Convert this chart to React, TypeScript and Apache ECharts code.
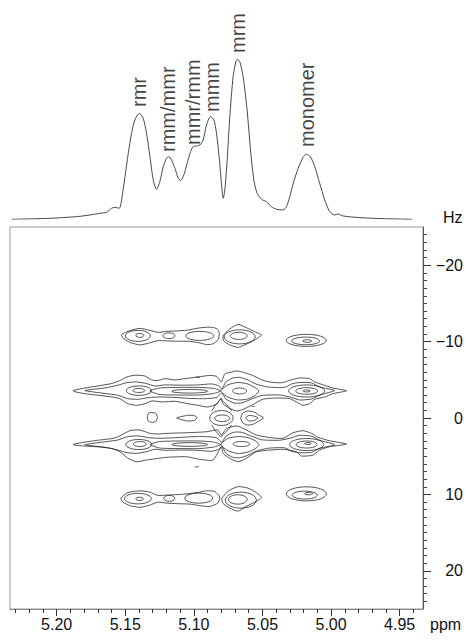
import React, { useEffect, useRef } from "react";
import * as echarts from "echarts";

const FONT = "'Liberation Sans', Arial, Helvetica, sans-serif";
const LINE = "#2a2a2a";

const X_MIN = 4.933;
const X_MAX = 5.234;
const Y_MIN = -25;
const Y_MAX = 25;
const X_MAJOR = [5.2, 5.15, 5.1, 5.05, 5.0, 4.95];
const X_MINOR = [5.23, 5.22, 5.21, 5.19, 5.18, 5.17, 5.16, 5.14, 5.13, 5.12, 5.11, 5.09, 5.08, 5.07, 5.06, 5.04, 5.03, 5.02, 5.01, 4.99, 4.98, 4.97, 4.96, 4.94];
const Y_MAJOR = [-20, -10, 0, 10, 20];
const Y_MINOR = [-24, -23, -22, -21, -19, -18, -17, -16, -15, -14, -13, -12, -11, -9, -8, -7, -6, -5, -4, -3, -2, -1, 1, 2, 3, 4, 5, 6, 7, 8, 9, 11, 12, 13, 14, 15, 16, 17, 18, 19, 21, 22, 23, 24];

// 1D projection (ppm, intensity)
const SPECTRUM: number[][] = [
  [5.2328, 0], [5.2049, 3], [5.1854, 8], [5.1757, 13], [5.1684, 18], [5.1636, 21], [5.16, 33], [5.1575, 36],
  [5.1544, 33], [5.1527, 58], [5.1502, 128], [5.1478, 198], [5.1454, 258], [5.143, 298], [5.1398, 318],
  [5.1369, 303], [5.1345, 258], [5.132, 188], [5.1296, 118], [5.1272, 90], [5.1248, 113], [5.1223, 158],
  [5.1199, 183], [5.1182, 188], [5.1163, 178], [5.1138, 153], [5.1114, 123], [5.1097, 116], [5.1073, 133],
  [5.1049, 168], [5.1024, 203], [5.1005, 218], [5.0981, 220], [5.0956, 223], [5.0932, 238], [5.0908, 283],
  [5.0879, 308], [5.0854, 298], [5.0835, 258], [5.0816, 188], [5.0799, 108], [5.0786, 63], [5.0774, 88],
  [5.0757, 178], [5.0738, 308], [5.0714, 428], [5.0694, 473], [5.0682, 480], [5.0665, 473], [5.0641, 428],
  [5.0612, 328], [5.0587, 208], [5.0563, 118], [5.0539, 78], [5.0507, 60], [5.0471, 53], [5.0435, 38],
  [5.0398, 30], [5.035, 28], [5.0325, 38], [5.0301, 68], [5.0272, 113], [5.024, 153], [5.0204, 186],
  [5.018, 195], [5.0151, 188], [5.0119, 158], [5.0083, 108], [5.0046, 58], [5.001, 23], [4.9973, 13],
  [4.9949, 16], [4.9913, 10], [4.9791, 5], [4.9622, 2], [4.9408, 0],
];

const PEAK_NAMES = ["rmr", "rmm/mmr", "mmr/rmm", "mmm", "mrm", "monomer"];
const PEAK_PPM = [5.1397, 5.119, 5.1004, 5.0869, 5.068, 5.0178];
const PEAK_LABEL_BASE = [337, 202, 223, 322, 499, 217];

// closed contour loops [ppm, Hz]
const CONTOUR_LOOPS: number[][][] = [
  // row at -10
  [[5.1527, -10.92], [5.1466, -11.44], [5.1394, -11.73], [5.1321, -11.47], [5.1262, -11.21], [5.1197, -11.34], [5.1124, -11.4], [5.1051, -11.49], [5.0957, -11.8], [5.0884, -11.89], [5.0833, -11.7], [5.0815, -11.14], [5.0822, -10.29], [5.0862, -9.7], [5.0908, -9.61], [5.0957, -9.83], [5.103, -10.03], [5.1124, -10.05], [5.1197, -10.09], [5.1262, -10.13], [5.1321, -9.83], [5.1394, -9.57], [5.1466, -9.9], [5.1517, -10.48]],
  [[5.0787, -10.75], [5.0738, -11.66], [5.0678, -12.25], [5.0614, -11.8], [5.0556, -11.27], [5.0507, -10.88], [5.0556, -10.22], [5.0629, -9.57], [5.0678, -9.24], [5.0738, -9.57], [5.0782, -10.09]],
  // row at +10
  [[5.1532, 10.49], [5.1481, 9.76], [5.1394, 9.53], [5.1321, 9.7], [5.1262, 10.13], [5.1197, 10.09], [5.1124, 10.03], [5.103, 9.9], [5.0957, 9.7], [5.0906, 9.53], [5.0847, 9.63], [5.0811, 10.35], [5.0826, 11.14], [5.0884, 11.57], [5.0957, 11.47], [5.103, 11.27], [5.1124, 11.21], [5.1197, 11.14], [5.1262, 11.01], [5.1321, 11.4], [5.1394, 11.7], [5.1466, 11.47], [5.1517, 11.01]],
  [[5.0796, 10.49], [5.0738, 9.44], [5.0676, 8.98], [5.0607, 9.17], [5.0549, 9.7], [5.0507, 10.42], [5.0556, 11.01], [5.0629, 11.66], [5.0676, 12.19], [5.0738, 11.8], [5.0789, 11.14]],
  // row at -3.5 outer
  [[5.1879, -3.6], [5.1794, -3.93], [5.1699, -4.19], [5.1597, -4.52], [5.1539, -4.91], [5.1488, -5.37], [5.143, -5.6], [5.1357, -5.5], [5.1308, -4.98], [5.1262, -4.91], [5.1211, -5.15], [5.1139, -4.98], [5.1066, -5.15], [5.0971, -5.37], [5.0884, -5.57], [5.0833, -5.44], [5.08, -4.72], [5.0775, -5.77], [5.0738, -5.96], [5.0687, -6.16], [5.0636, -5.96], [5.0571, -5.57], [5.0498, -4.94], [5.0425, -4.65], [5.0352, -4.63], [5.0301, -4.94], [5.0229, -5.24], [5.0156, -5.15], [5.0119, -4.72], [5.0061, -4.36], [4.9988, -3.93], [4.9888, -3.56], [4.9988, -3.18], [5.0046, -2.75], [5.0119, -2.45], [5.0156, -1.87], [5.0207, -1.66], [5.0243, -2.01], [5.0301, -2.53], [5.0396, -2.62], [5.0498, -2.45], [5.0571, -1.74], [5.0644, -1.11], [5.0689, -0.92], [5.0738, -1.25], [5.0789, -1.87], [5.08, -2.62], [5.0833, -1.83], [5.0898, -1.44], [5.0971, -1.66], [5.1044, -1.87], [5.1139, -2.19], [5.1233, -2.1], [5.1306, -2.23], [5.1357, -1.87], [5.1418, -1.66], [5.1481, -1.87], [5.1539, -2.53], [5.1597, -2.75], [5.1699, -2.98], [5.1794, -3.18], [5.1874, -3.47]],
  // row at -3.5 second
  [[5.1794, -3.6], [5.1648, -3.93], [5.1554, -4.29], [5.1488, -4.63], [5.1415, -4.72], [5.1343, -4.5], [5.1284, -4.19], [5.1211, -4.33], [5.1088, -4.29], [5.0971, -4.33], [5.0869, -4.46], [5.0818, -4.19], [5.0796, -3.8], [5.0767, -4.72], [5.0716, -5.24], [5.0666, -5.31], [5.0607, -4.98], [5.0549, -4.46], [5.0461, -4.06], [5.0338, -4.0], [5.0287, -4.46], [5.0229, -4.65], [5.0141, -4.59], [5.0083, -4.06], [4.9974, -3.6], [5.0083, -3.01], [5.0141, -2.49], [5.0229, -2.36], [5.0287, -2.69], [5.0374, -3.01], [5.0505, -2.95], [5.0578, -2.49], [5.0651, -1.97], [5.0709, -1.97], [5.0767, -2.49], [5.0796, -3.28], [5.0833, -2.69], [5.092, -2.53], [5.103, -2.56], [5.1139, -2.69], [5.1248, -2.75], [5.1321, -2.69], [5.1408, -2.45], [5.1481, -2.53], [5.1554, -2.98], [5.1648, -3.21]],
  [[5.1321, -3.54], [5.1248, -3.93], [5.1102, -4.0], [5.0957, -4.0], [5.0855, -3.87], [5.0804, -3.54], [5.0855, -3.21], [5.0957, -3.01], [5.1102, -3.01], [5.1248, -3.08]],
  [[5.0804, -3.54], [5.0753, -4.33], [5.068, -4.65], [5.0607, -4.46], [5.0549, -3.93], [5.0527, -3.54], [5.0549, -3.01], [5.0607, -2.49], [5.068, -2.36], [5.0753, -2.75]],
  // row at +3.5 outer
  [[5.1879, 3.45], [5.1794, 3.15], [5.1685, 2.88], [5.1597, 2.69], [5.1552, 2.45], [5.1466, 1.66], [5.1394, 1.57], [5.1321, 2.01], [5.1262, 2.1], [5.1197, 2.01], [5.1051, 1.93], [5.0908, 1.8], [5.0826, 1.57], [5.0799, 2.23], [5.0762, 1.35], [5.0685, 1.05], [5.0617, 1.57], [5.0544, 2.23], [5.0447, 2.56], [5.035, 2.66], [5.0277, 1.93], [5.0204, 1.66], [5.0143, 2.01], [5.0095, 2.53], [5.001, 2.98], [4.9888, 3.41], [5.001, 3.76], [5.0083, 4.19], [5.0131, 4.85], [5.0216, 4.98], [5.0252, 4.42], [5.035, 4.1], [5.0544, 4.42], [5.0617, 5.28], [5.0678, 5.73], [5.0738, 5.28], [5.0787, 4.63], [5.08, 3.8], [5.086, 5.5], [5.0957, 5.41], [5.1054, 5.07], [5.1199, 5.15], [5.1345, 5.5], [5.1418, 5.73], [5.1479, 5.28], [5.1539, 4.42], [5.1597, 4.0], [5.1685, 3.8], [5.1794, 3.67], [5.1874, 3.54]],
  // row at +3.5 second
  [[5.1794, 3.5], [5.1648, 3.83], [5.1554, 4.19], [5.1488, 4.53], [5.1415, 4.62], [5.1343, 4.4], [5.1284, 4.09], [5.1211, 4.23], [5.1088, 4.19], [5.0971, 4.23], [5.0869, 4.36], [5.0818, 4.09], [5.0796, 3.7], [5.0767, 4.62], [5.0716, 5.14], [5.0666, 5.21], [5.0607, 4.88], [5.0549, 4.36], [5.0461, 3.96], [5.0338, 3.9], [5.0287, 4.36], [5.0229, 4.55], [5.0141, 4.49], [5.0083, 3.96], [4.9974, 3.5], [5.0083, 2.91], [5.0141, 2.39], [5.0229, 2.26], [5.0287, 2.59], [5.0374, 2.91], [5.0505, 2.85], [5.0578, 2.39], [5.0651, 1.87], [5.0709, 1.87], [5.0767, 2.39], [5.0796, 3.18], [5.0833, 2.59], [5.092, 2.43], [5.103, 2.46], [5.1139, 2.59], [5.1248, 2.65], [5.1321, 2.59], [5.1408, 2.35], [5.1481, 2.43], [5.1554, 2.88], [5.1648, 3.11]],
  [[5.1321, 3.47], [5.1248, 3.08], [5.1102, 3.01], [5.0957, 3.01], [5.0855, 3.15], [5.0804, 3.47], [5.0855, 3.8], [5.0957, 4.0], [5.1102, 4.0], [5.1248, 3.93]],
  [[5.0804, 3.47], [5.0753, 2.69], [5.068, 2.43], [5.0607, 2.56], [5.0549, 3.01], [5.0527, 3.47], [5.0549, 3.99], [5.0607, 4.46], [5.068, 4.65], [5.0753, 4.26]],
  // row at 0 islands
  [[5.1339, -0.13], [5.1332, -0.59], [5.1306, -0.72], [5.1277, -0.59], [5.1266, -0.13], [5.1274, 0.39], [5.1303, 0.59], [5.1332, 0.39]],
  [[5.1126, 0], [5.1088, -0.2], [5.1044, -0.35], [5.1, -0.33], [5.0978, -0.07], [5.0993, 0.3], [5.1044, 0.39], [5.1088, 0.22]],
  [[5.0658, 0], [5.0643, -0.66], [5.0607, -0.92], [5.0563, -0.79], [5.0527, -0.39], [5.0491, 0], [5.0527, 0.39], [5.0563, 0.79], [5.0607, 0.92], [5.0643, 0.66]],
  [[5.0622, 0], [5.06, -0.33], [5.0563, -0.26], [5.0531, 0], [5.0563, 0.33], [5.06, 0.39]],
];

// elliptic contours [ppm, Hz, half-width ppm, half-height Hz]
const CONTOUR_ELLIPSES: number[][] = [
  [5.1408, -10.75, 0.0091, 0.72], [5.1394, -10.81, 0.0029, 0.26], [5.1182, -10.77, 0.0044, 0.37],
  [5.0957, -10.75, 0.0102, 0.59], [5.0666, -10.62, 0.0113, 0.92], [5.0673, -10.75, 0.0062, 0.46],
  [5.0181, -10.16, 0.0146, 0.79], [5.0185, -10.09, 0.0102, 0.5], [5.0174, -10.07, 0.0033, 0.17],
  [5.1408, 10.55, 0.0098, 0.69], [5.1396, 10.58, 0.0027, 0.22], [5.1179, 10.52, 0.004, 0.39],
  [5.0964, 10.49, 0.0102, 0.66], [5.0658, 10.75, 0.0113, 1.05], [5.068, 10.66, 0.0069, 0.61],
  [5.018, 9.93, 0.0146, 0.92], [5.0192, 10.09, 0.0091, 0.52], [5.0163, 9.9, 0.0029, 0.16],
  [5.1401, -3.58, 0.0091, 0.62], [5.1401, -3.6, 0.0044, 0.26], [5.103, -3.5, 0.0131, 0.24],
  [5.0666, -3.54, 0.0051, 0.39], [5.0178, -3.54, 0.0131, 0.79], [5.0178, -3.54, 0.008, 0.43],
  [5.0178, -3.54, 0.0025, 0.13],
  [5.1401, 3.47, 0.0095, 0.66], [5.1394, 3.41, 0.0047, 0.33], [5.103, 3.47, 0.0131, 0.24],
  [5.0653, 3.41, 0.0061, 0.33], [5.0178, 3.47, 0.0124, 0.79], [5.0178, 3.47, 0.0076, 0.46],
  [5.017, 3.34, 0.0024, 0.13],
  [5.0799, 0, 0.0085, 0.98], [5.0793, 0.04, 0.0055, 0.43],
];

// open strokes (noise specks, crossing lines at the 5.08 pinch)
const CONTOUR_STROKES: number[][][] = [
  [[5.0986, -5.37], [5.0957, -5.31]],
  [[5.0578, -1.51], [5.0556, -1.51]],
  [[5.0993, 6.42], [5.0964, 6.36]],
  [[5.0804, -2.49], [5.0847, -1.57], [5.0869, -0.92]],
  [[5.0804, -2.49], [5.0753, -1.57], [5.0724, -0.92]],
  [[5.0804, 2.49], [5.0847, 1.57], [5.0869, 0.92]],
  [[5.0804, 2.49], [5.0753, 1.57], [5.0724, 0.92]],
];

export default function App() {
  const ref = useRef<HTMLDivElement>(null);
  useEffect(() => {
    if (!ref.current) return;
    const chart = echarts.init(ref.current, undefined, { renderer: "svg" });
    const txt = { fontFamily: FONT, color: "#111" };
    const option: any = {
      animation: false,
      grid: [
        { left: 10, right: 43, top: 227, height: 382, show: true, borderColor: "#9a9a9a", borderWidth: 1, backgroundColor: "transparent" },
        { left: 10, right: 43, top: 0, height: 219.3 },
      ],
      xAxis: [
        {
          gridIndex: 0, type: "value", min: X_MIN, max: X_MAX, inverse: true, position: "bottom",
          axisLine: { show: true, onZero: false, lineStyle: { color: "#8a8a8a", width: 1 } },
          axisTick: { show: true, length: 7, customValues: X_MAJOR, lineStyle: { color: "#333" } },
          axisLabel: { show: true, customValues: X_MAJOR, formatter: (v: number) => v.toFixed(2), fontSize: 16, margin: 7, ...txt },
          splitLine: { show: false },
        },
        {
          gridIndex: 0, type: "value", min: X_MIN, max: X_MAX, inverse: true, position: "bottom",
          axisLine: { show: false, onZero: false },
          axisTick: { show: true, length: 4, customValues: X_MINOR, lineStyle: { color: "#333" } },
          axisLabel: { show: false },
          splitLine: { show: false },
        },
        { gridIndex: 1, type: "value", min: X_MIN, max: X_MAX, inverse: true, show: false },
      ],
      yAxis: [
        {
          gridIndex: 0, type: "value", min: Y_MIN, max: Y_MAX, inverse: true, position: "right",
          axisLine: { show: true, onZero: false, lineStyle: { color: "#555", width: 1 } },
          axisTick: { show: true, length: 8, customValues: Y_MAJOR, lineStyle: { color: "#333" } },
          axisLabel: {
            show: true, customValues: Y_MAJOR, align: "right", margin: 40, fontSize: 16, ...txt,
            formatter: (v: number) => (v < 0 ? "\u2212" + Math.abs(v) : String(v)),
          },
          splitLine: { show: false },
        },
        {
          gridIndex: 0, type: "value", min: Y_MIN, max: Y_MAX, inverse: true, position: "right",
          axisLine: { show: false, onZero: false },
          axisTick: { show: true, length: 4, customValues: Y_MINOR, lineStyle: { color: "#444" } },
          axisLabel: { show: false },
          splitLine: { show: false },
        },
        { gridIndex: 1, type: "value", min: 0, max: 658, show: false },
      ],
      graphic: [
        { type: "text", left: 443, top: 209, style: { text: "Hz", fontSize: 16, fontFamily: FONT, fill: "#111" } },
        { type: "text", left: 430, top: 616, style: { text: "ppm", fontSize: 16, fontFamily: FONT, fill: "#111" } },
      ],
      series: [
        {
          type: "line", xAxisIndex: 2, yAxisIndex: 2, data: SPECTRUM, symbol: "none", smooth: 0.25,
          lineStyle: { color: "#333", width: 0.9 }, silent: true,
        },
        {
          type: "scatter", xAxisIndex: 2, yAxisIndex: 2, symbolSize: 1, silent: true,
          itemStyle: { color: "rgba(0,0,0,0)" },
          data: PEAK_NAMES.map((n, i) => ({ name: n, value: [PEAK_PPM[i], PEAK_LABEL_BASE[i]] })),
          label: {
            show: true, formatter: "{b}", rotate: 90, position: "inside", align: "left", verticalAlign: "middle",
            fontSize: 20, fontFamily: FONT, color: "#111",
          },
        },
        {
          type: "custom", xAxisIndex: 0, yAxisIndex: 0, silent: true, clip: true,
          data: CONTOUR_LOOPS.map((loop, i) => [loop[0][0], loop[0][1], i]),
          renderItem: (_p: any, api: any) => {
            const loop = CONTOUR_LOOPS[api.value(2)];
            return {
              type: "polygon",
              shape: { points: loop.map((pt) => api.coord(pt)), smooth: 0.2 },
              style: { fill: "none", stroke: LINE, lineWidth: 0.8 },
            };
          },
        },
        {
          type: "custom", xAxisIndex: 0, yAxisIndex: 0, silent: true, clip: true,
          data: CONTOUR_ELLIPSES,
          renderItem: (_p: any, api: any) => {
            const c = api.coord([api.value(0), api.value(1)]);
            const s = api.size([api.value(2), api.value(3)]);
            return {
              type: "ellipse",
              shape: { cx: c[0], cy: c[1], rx: Math.abs(s[0]), ry: Math.abs(s[1]) },
              style: { fill: "none", stroke: LINE, lineWidth: 0.8 },
            };
          },
        },
        {
          type: "custom", xAxisIndex: 0, yAxisIndex: 0, silent: true, clip: true,
          data: CONTOUR_STROKES.map((s, i) => [s[0][0], s[0][1], i]),
          renderItem: (_p: any, api: any) => {
            const s = CONTOUR_STROKES[api.value(2)];
            return {
              type: "polyline",
              shape: { points: s.map((pt) => api.coord(pt)), smooth: 0.3 },
              style: { fill: "none", stroke: LINE, lineWidth: 0.8 },
            };
          },
        },
      ],
    };
    chart.setOption(option);
    return () => chart.dispose();
  }, []);
  return <div ref={ref} style={{ position: "absolute", left: 0, top: 0, width: 466, height: 642 }} />;
}
